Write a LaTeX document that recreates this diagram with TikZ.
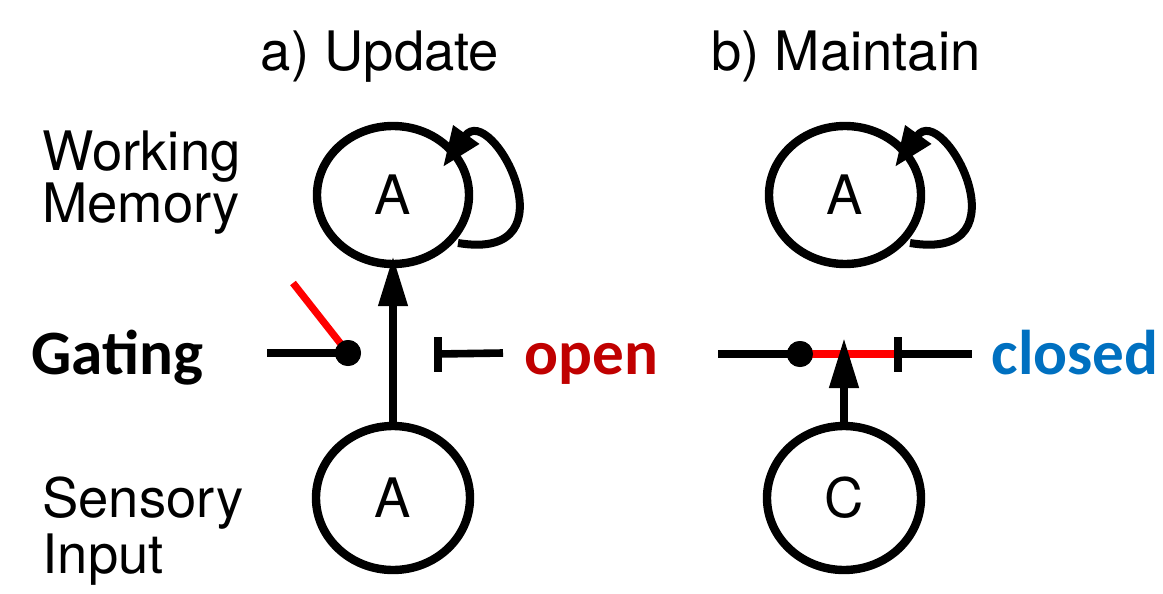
\documentclass[tikz,border=0pt]{standalone}
\usepackage{fontspec}
\newfontfamily\hel{TeX Gyre Heros}
\newfontfamily\calb{Carlito}
\usetikzlibrary{shapes.geometric,arrows.meta,calc}
\definecolor{openred}{RGB}{192,0,0}
\definecolor{closedblue}{RGB}{0,112,192}
\definecolor{gatered}{RGB}{255,0,0}
\begin{document}
\begin{tikzpicture}[x=0.5pt,y=-0.5pt,
  lbl/.style={font=\hel\fontsize{27.2}{27.2}\selectfont, inner sep=0pt, anchor=base west},
  ttl/.style={font=\hel\fontsize{27.2}{27.2}\selectfont, inner sep=0pt, anchor=base},
  gtxt/.style={font=\calb\bfseries\fontsize{31.6}{31.6}\selectfont, inner sep=0pt, anchor=base west},
  unit/.style={draw, ellipse, line width=4.2pt, inner sep=0pt, font=\hel\fontsize{27.2}{27.2}\selectfont},
  wmunit/.style={unit, minimum width=76pt, minimum height=69pt},
  inunit/.style={unit, minimum width=77pt, minimum height=72pt},
  arr/.style={line width=3.8pt, -{Triangle[length=25pt,width=14pt]}},
  looparr/.style={line width=4pt, -{Triangle[length=20pt,width=15pt]}},
  wire/.style={line width=3.8pt},
  redwire/.style={line width=3.6pt, draw=gatered},
  dot/.style={circle, fill=black, inner sep=0pt, minimum size=13pt},
  barnode/.style={inner sep=0pt, minimum width=3.8pt, minimum height=17.5pt, fill=black}
]
\useasboundingbox (0,0) rectangle (1163,594);

% titles and labels
\node[ttl] (ta) at (380,70) {a) Update};
\node[ttl] (tb) at (846,70) {b) Maintain};
\node[lbl] (wm1) at (42,170) {Working};
\node[lbl] (wm2) at (42,222) {Memory};
\node[lbl] (si1) at (42,517) {Sensory};
\node[lbl] (si2) at (42,573) {Input};
\node[gtxt] (gating) at (31,374) {Gating};
\node[gtxt, text=openred] (open) at (524,374) {open};
\node[gtxt, text=closedblue, anchor=base east] (closed) at (1159,374) {closed};

% units
\node[wmunit] (wmA) at (393,195) {A};
\node[wmunit] (wmB) at (845,195) {A};
\node[inunit] (inA) at (393,498) {A};
\node[inunit] (inC) at (844,498) {C};

% self loops
\draw[looparr] ($(wmA.center)+(65,48)$) .. controls ($(wmA.center)+(185,68)$) and ($(wmA.center)+(98,-95)$) .. ($(wmA.center)+(50,-28)$);
\draw[looparr] ($(wmB.center)+(65,48)$) .. controls ($(wmB.center)+(185,68)$) and ($(wmB.center)+(98,-95)$) .. ($(wmB.center)+(50,-28)$);

% gating a (open)
\node[dot] (dA) at (348,353) {};
\coordinate (gAl) at (267,353);
\coordinate (gAr) at (293,283);
\draw[wire] (gAl) -- (dA.center);
\draw[redwire] (dA.center) -- (gAr);
\node[dot] at (dA) {};
\node[barnode] (bA) at (438,354) {};
\coordinate (bAr) at (503,353);
\draw[wire] (bA.center) -- (bAr);

% update arrow
\draw[arr] (inA.north) -- ([yshift=6pt]wmA.south);

% gating b (closed)
\coordinate (gBl) at (718,354);
\node[dot] (dB) at (800,354) {};
\node[barnode] (bB) at (898,354) {};
\coordinate (gBr) at (972,354);
\draw[redwire] (dB.center) -- (bB.center);
\draw[wire] (gBl) -- (dB.center);
\draw[wire] (bB.center) -- (gBr);
\node[dot] at (dB) {};
\node[barnode] at (bB) {};
\draw[arr] (inC.north) -- ($(inC.north |- dB)+(0,-16)$);
\end{tikzpicture}
\end{document}
